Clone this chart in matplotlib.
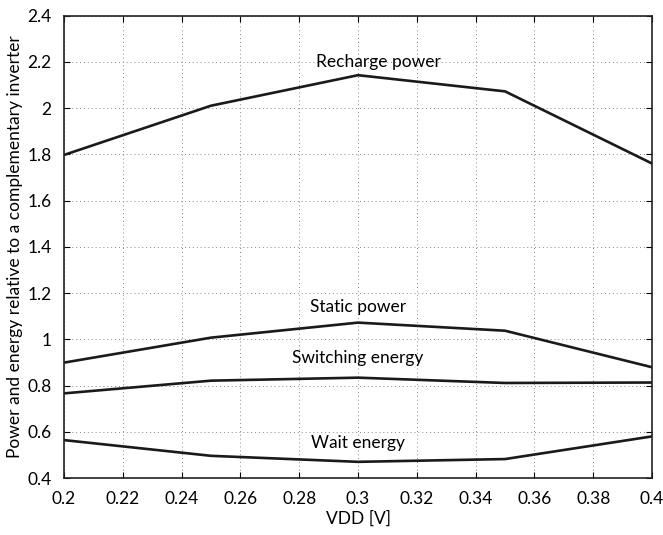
import matplotlib
matplotlib.use("Agg")
import matplotlib.pyplot as plt

vdd = [0.2, 0.25, 0.3, 0.35, 0.4]
recharge_power = [1.797, 2.010, 2.142, 2.072, 1.760]
static_power = [0.899, 1.007, 1.072, 1.037, 0.879]
switching_energy = [0.766, 0.821, 0.834, 0.811, 0.813]
wait_energy = [0.564, 0.496, 0.470, 0.482, 0.580]

labels = ["Recharge power", "Static power", "Switching energy", "Wait energy"]
label_pos = [(0.307, 2.2), (0.3, 1.14), (0.3, 0.92), (0.3, 0.55)]

plt.rcParams.update({"font.family": ["Lato", "DejaVu Sans"], "font.size": 12.5})

fig = plt.figure(figsize=(6.63, 5.35), dpi=100)
ax = fig.add_axes([0.0965, 0.1065, 0.887, 0.8645])

for series in (recharge_power, static_power, switching_energy, wait_energy):
    ax.plot(vdd, series, color="#1a1a1a", lw=1.9)

for text, (x, y) in zip(labels, label_pos):
    ax.text(x, y, text, ha="center", va="center", fontsize=12.5)

ax.set_xlim(0.2, 0.4)
ax.set_ylim(0.4, 2.4)
ax.set_xticks([0.2, 0.22, 0.24, 0.26, 0.28, 0.3, 0.32, 0.34, 0.36, 0.38, 0.4])
ax.set_xticklabels(["0.2", "0.22", "0.24", "0.26", "0.28", "0.3", "0.32",
                    "0.34", "0.36", "0.38", "0.4"])
ax.set_yticks([0.4, 0.6, 0.8, 1.0, 1.2, 1.4, 1.6, 1.8, 2.0, 2.2, 2.4])
ax.set_yticklabels(["0.4", "0.6", "0.8", "1", "1.2", "1.4", "1.6", "1.8",
                    "2", "2.2", "2.4"])
ax.grid(True, linestyle=(0, (1, 3)), color="#888888", lw=0.7)
ax.tick_params(direction="in", top=True, right=True, length=4, width=0.8, pad=9)
for s in ax.spines.values():
    s.set_linewidth(1.2)
    s.set_color("#222222")

ax.set_xlabel("VDD [V]", labelpad=3)
ax.set_ylabel("Power and energy relative to a complementary inverter", labelpad=3)

fig.savefig("out.png", dpi=100)
